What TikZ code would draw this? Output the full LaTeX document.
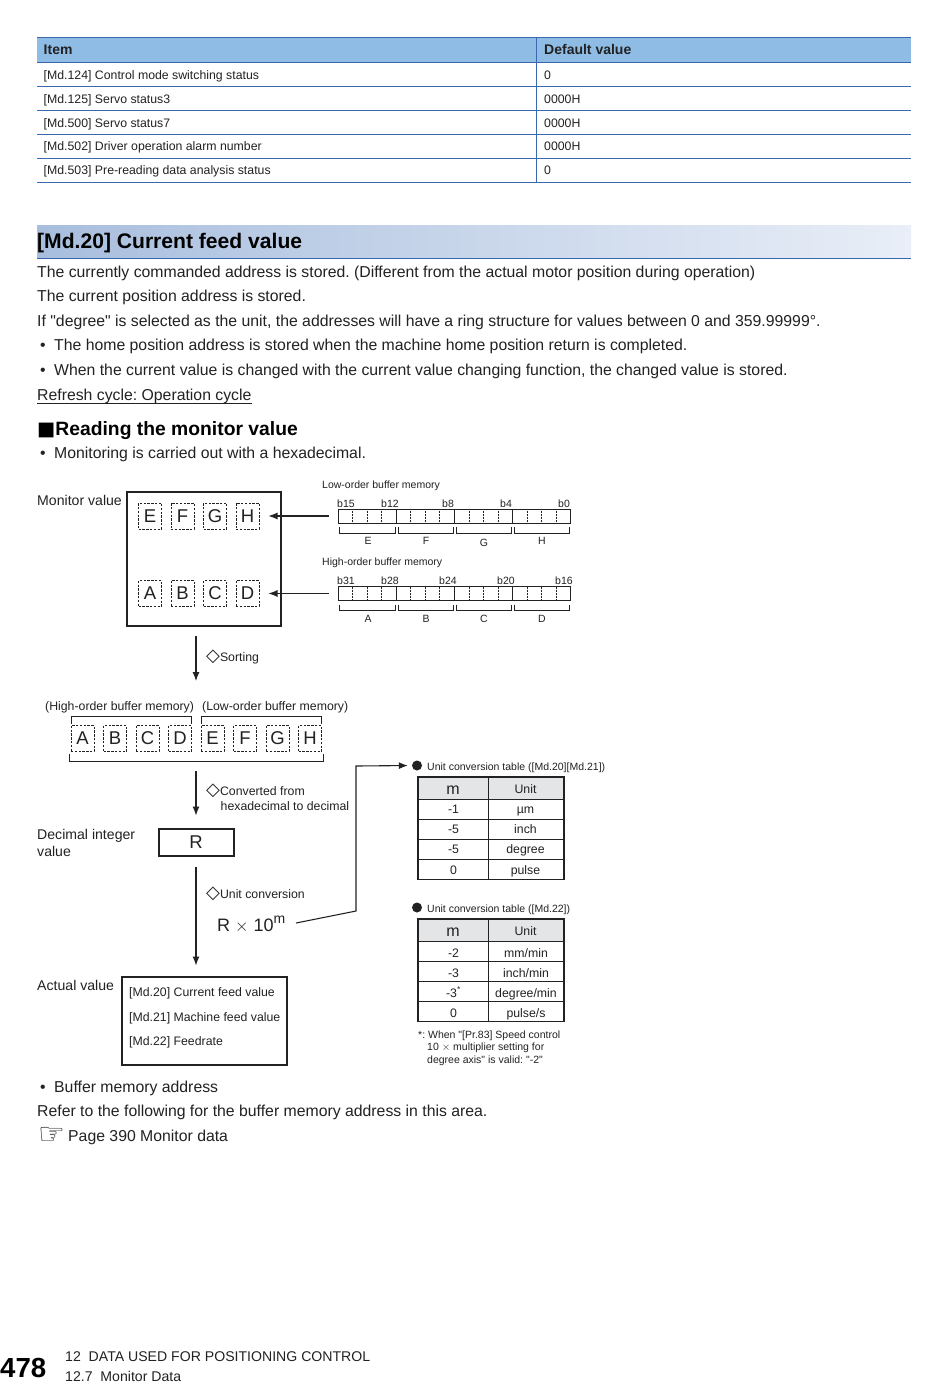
\documentclass[tikz,border=0pt]{standalone}
\usepackage{fontspec}
\usetikzlibrary{arrows.meta}
\setmainfont[Ligatures=TeXOff]{Liberation Sans}
\newfontfamily\symfont{DejaVu Sans}
\newcommand{\diam}{{\symfont\fontsize{18}{18}\selectfont ◇}}
\definecolor{rulecol}{HTML}{3A68AE}
\definecolor{headcol}{HTML}{8FBCE5}
\definecolor{inkcol}{HTML}{222222}
\definecolor{greycol}{HTML}{E4E5E6}
\definecolor{shadeleft}{HTML}{A8BEDE}
\definecolor{shaderight}{HTML}{E9EEF7}
\begin{document}
\begin{tikzpicture}[x=1pt,y=-1pt]
    \tikzset{
        txt/.style={anchor=west, inner sep=0pt, text=inkcol, text height=1.05em, text depth=.05em, execute at begin node=\frenchspacing},
        body/.style={txt, font=\fontsize{15.8}{18}\selectfont},
        small/.style={txt, font=\fontsize{12.3}{14}\selectfont},
        label/.style={txt, font=\fontsize{14.1}{16}\selectfont},
        tiny/.style={txt, text height=.9em, text depth=.1em, font=\fontsize{10.5}{13}\selectfont},
        cell/.style={small, anchor=center, text height=1em, text depth=.1em},
        bitlabel/.style={tiny, anchor=center},
        letter/.style={draw=inkcol, dash pattern=on 2.4pt off 1.4pt, line width=1pt, minimum width=23pt, minimum height=26pt, inner sep=0pt, text=inkcol, font=\fontsize{18.5}{22}\selectfont},
        thick box/.style={draw=inkcol, line width=2pt, inner sep=0pt},
        reg/.style={draw=inkcol, line width=.8pt, minimum width=232.5pt, minimum height=14pt, inner sep=0pt},
        arc/.style={-{Latex[length=9pt,width=7pt]}, draw=inkcol, line width=1.1pt},
        dot/.style={circle, fill=inkcol, inner sep=0pt, minimum size=10pt},
        bracket/.style={draw=inkcol, line width=.7pt}
    }
    \useasboundingbox (0,0) rectangle (950,1388);
    \fill[white] (0,0) rectangle (950,1388);

    % table at the top
    \fill[headcol] (37,38) rectangle (911,63);
    \foreach \y in {38,63,87,111,135,159,183}{
        \draw[rulecol, line width=1pt] (37,\y) -- (911,\y);
    }
    \draw[rulecol, line width=.5pt] (536.5,38) -- (536.5,183);
    \node[label, font=\fontsize{14}{16}\selectfont\bfseries] (item) at (43.5,49.5) {Item};
    \node[label, font=\fontsize{14}{16}\selectfont\bfseries] (default) at (544,49.5) {Default value};
    \foreach \y/\a/\b in {%
        75/{[Md.124] Control mode switching status}/0,
        98.5/{[Md.125] Servo status3}/0000H,
        122.5/{[Md.500] Servo status7}/0000H,
        146/{[Md.502] Driver operation alarm number}/0000H,
        170/{[Md.503] Pre-reading data analysis status}/0%
    }{
        \node[small] (item\y) at (43.5,\y) {\a};
        \node[small] (default\y) at (544,\y) {\b};
    }

    % heading
    \shade[left color=shadeleft, right color=shaderight] (37,226) rectangle (911,258);
    \draw[rulecol, line width=.7pt] (37,258.5) -- (911,258.5);
    \node[txt, text=black, font=\fontsize{21.1}{24}\selectfont\bfseries] (title) at (37,243) {[Md.20] Current feed value};

    % running text
    \node[body] (line1) at (37,272) {The currently commanded address is stored. (Different from the actual motor position during operation)};
    \node[body] (line2) at (37,296.5) {The current position address is stored.};
    \node[body] (line3) at (37,321) {If "degree" is selected as the unit, the addresses will have a ring structure for values between 0 and 359.99999°.};
    \node[body] (dot1) at (40,345.5) {•};
    \node[body] (line4) at (54,345.5) {The home position address is stored when the machine home position return is completed.};
    \node[body] (dot2) at (40,370.5) {•};
    \node[body] (line5) at (54,370.5) {When the current value is changed with the current value changing function, the changed value is stored.};
    \node[body] (refresh) at (37,395) {Refresh cycle: Operation cycle};
    \draw[inkcol, line width=.6pt] ([yshift=-3pt]refresh.south west) -- ([yshift=-3pt]refresh.south east);
    \node[txt, text=black, font=\fontsize{19.3}{22}\selectfont\bfseries] (reading) at (37,430) {{\symfont■}Reading the monitor value};
    \node[body] (dot3) at (40,453.5) {•};
    \node[body] (line6) at (54,453.5) {Monitoring is carried out with a hexadecimal.};

    % monitor value box
    \node[label] (monlabel) at (37,500) {Monitor value};
    \node[thick box, minimum width=154pt, minimum height=134pt] (monitor) at (203.5,558.5) {};
    \foreach \n/\x/\y in {E/150/516,F/182.5/516,G/215/516,H/247.5/516,A/150/593.5,B/182.5/593.5,C/215/593.5,D/247.5/593.5}{
        \node[letter] (mon\n) at (\x,\y) {\n};
    }

    % buffer memories
    \node[tiny] (lowtitle) at (322,484) {Low-order buffer memory};
    \node[tiny] (hightitle) at (322,561.5) {High-order buffer memory};
    \foreach \name/\y in {low/516,high/593.5}{
        \node[reg] (\name) at (454.25,\y) {};
        \foreach \x in {396,454.5,512.5}{
            \draw[inkcol, line width=.8pt] (\x,\y-7) -- (\x,\y+7);
        }
        \foreach \x in {352.5,367,381.5,410.5,425,439.5,469,483.5,498,527,541.5,556}{
            \draw[inkcol, line width=.5pt, densely dotted] (\x,\y-7) -- (\x,\y+7);
        }
        \foreach \a/\b in {339.5/395,398/453,456/511,514/569}{
            \draw[bracket] (\a,\y+11) -- (\a,\y+17) -- (\b,\y+17) -- (\b,\y+11);
        }
    }
    \foreach \t/\x in {b15/346,b12/390,b8/448,b4/506,b0/564}{
        \node[bitlabel] (bit\t) at (\x,503) {\t};
    }
    \foreach \t/\x in {b31/346,b28/390,b24/448,b20/506,b16/564}{
        \node[bitlabel] (bit\t) at (\x,580.5) {\t};
    }
    \foreach \t/\x/\y in {E/368/540,F/426/540,G/484/542,H/542/540,A/368/618,B/426/618,C/484/618,D/542/618}{
        \node[bitlabel] (part\t) at (\x,\y) {\t};
    }
    \draw[arc, shorten <=9pt, shorten >=9pt] (low.west) -- (monH.east);
    \draw[arc, shorten <=9pt, shorten >=9pt] (high.west) -- (monD.east);

    % sorting
    \coordinate (sorttop) at (196,636);
    \coordinate (sortend) at (196,681);
    \draw[arc] (sorttop) -- (sortend);
    \node[small] (sorting) at (206,656) {\diam Sorting};
    \node[small] (highnote) at (45,705.5) {(High-order buffer memory)};
    \node[small] (lownote) at (202,705.5) {(Low-order buffer memory)};
    \foreach \n/\x in {A/82.5,B/115,C/147.5,D/180,E/212.5,F/245,G/277.5,H/310}{
        \node[letter] (row\n) at (\x,738.5) {\n};
    }
    \draw[bracket] (71,724) -- (71,716) -- (191,716) -- (191,724);
    \draw[bracket] (201,724) -- (201,716) -- (321,716) -- (321,724);
    \draw[bracket] (69,754) -- (69,761) -- (323,761) -- (323,754);

    % decimal value
    \coordinate (convtop) at (196,771);
    \node[small] (converted) at (206,790.5) {\diam Converted from};
    \node[small] (hexa) at (220.5,805) {hexadecimal to decimal};
    \node[label] (decimal) at (37,834.5) {Decimal integer};
    \node[label] (decimal2) at (37,851.5) {value};
    \node[draw=inkcol, line width=2pt, minimum width=75pt, minimum height=27pt, inner sep=0pt, text=inkcol, font=\fontsize{18.5}{22}\selectfont] (rbox) at (196,842) {R};
    \draw[arc, shorten >=12pt] (convtop) -- (rbox.north);

    % unit conversion
    \node[small] (unitconv) at (206,893.5) {\diam Unit conversion};
    \node[txt, font=\fontsize{18}{21}\selectfont] (formula) at (217,926) {R $\times$ 10\raisebox{.42em}{\fontsize{14}{17}\selectfont m}};

    % actual value
    \node[label] (actuallabel) at (37,985) {Actual value};
    \node[draw=inkcol, line width=2pt, minimum width=165pt, minimum height=88pt, inner sep=0pt] (actual) at (204,1020.5) {};
    \node[small] (act1) at (129,991) {[Md.20] Current feed value};
    \node[small] (act2) at (129,1016) {[Md.21] Machine feed value};
    \node[small] (act3) at (129,1040.5) {[Md.22] Feedrate};
    \draw[arc, shorten <=10pt, shorten >=10pt] (rbox.south) -- (rbox.south |- actual.north);

    % conversion tables
    \node[dot] (bullet1) at (417,765.5) {};
    \node[tiny] (table1title) at (427,766) {Unit conversion table ([Md.20][Md.21])};
    \node[dot] (bullet2) at (417,907.5) {};
    \node[tiny] (table2title) at (427,908) {Unit conversion table ([Md.22])};
    \coordinate (feedstart) at (296,923);
    \coordinate (feedbend) at (356,911);
    \coordinate (feedup) at (356,766);
    \draw[arc, shorten >=4pt] (feedstart) -- (feedbend) -- (feedup) -- (bullet1.west);

    \foreach \t/\top in {a/777,b/919}{
        \fill[greycol] (418,\top) rectangle (564,\top+22.5);
        \draw[inkcol, line width=1.8pt] (418,\top) rectangle (564,\top+102.5);
        \draw[inkcol, line width=1.8pt] (418,\top+22.5) -- (564,\top+22.5);
        \draw[inkcol, line width=1.5pt] (488.5,\top) -- (488.5,\top+102.5);
        \foreach \y in {42.5,62.5,82.5}{
            \draw[inkcol, line width=.9pt] (418,\top+\y) -- (564,\top+\y);
        }
        \node[cell, font=\fontsize{16}{18}\selectfont] (\t m) at (453,\top+13) {m};
        \node[cell] (\t unit) at (525.5,\top+12) {Unit};
    }
    \foreach \i/\y/\m/\u in {1/809/-1/µm,2/829/-5/inch,3/849/-5/degree,4/869.5/0/pulse}{
        \node[cell] (am\i) at (453.5,\y) {\m};
        \node[cell] (au\i) at (525.5,\y) {\u};
    }
    \foreach \i/\y/\m/\u in {1/953/-2/{mm/min},2/972.5/-3/{inch/min},3/992.5/{-3\textsuperscript{*}}/{degree/min},4/1012.5/0/{pulse/s}}{
        \node[cell] (bm\i) at (453.5,\y) {\m};
        \node[cell] (bu\i) at (526,\y) {\u};
    }
    \node[tiny] (star1) at (418,1034) {*: When "[Pr.83] Speed control};
    \node[tiny] (star2) at (427,1046.5) {10 $\times$ multiplier setting for};
    \node[tiny] (star3) at (427,1059) {degree axis" is valid: "-2"};

    % closing text
    \node[body] (dot4) at (40,1087) {•};
    \node[body] (line7) at (54,1087) {Buffer memory address};
    \node[body] (line8) at (37,1111.5) {Refer to the following for the buffer memory address in this area.};
    \node[body] (hand) at (38,1139) {{\symfont\fontsize{30}{30}\selectfont ☞}};
    \node[body] (line9) at (68,1136) {Page 390 Monitor data};

    % page footer
    \node[txt, text=black, font=\fontsize{27.6}{32}\selectfont\bfseries] (page) at (0,1372) {478};
    \node[txt, font=\fontsize{14.1}{17}\selectfont] (chapter) at (65,1356) {12\ \ DATA USED FOR POSITIONING CONTROL};
    \node[txt, font=\fontsize{14.1}{17}\selectfont] (section) at (65,1376) {12.7\ \ Monitor Data};
\end{tikzpicture}
\end{document}
